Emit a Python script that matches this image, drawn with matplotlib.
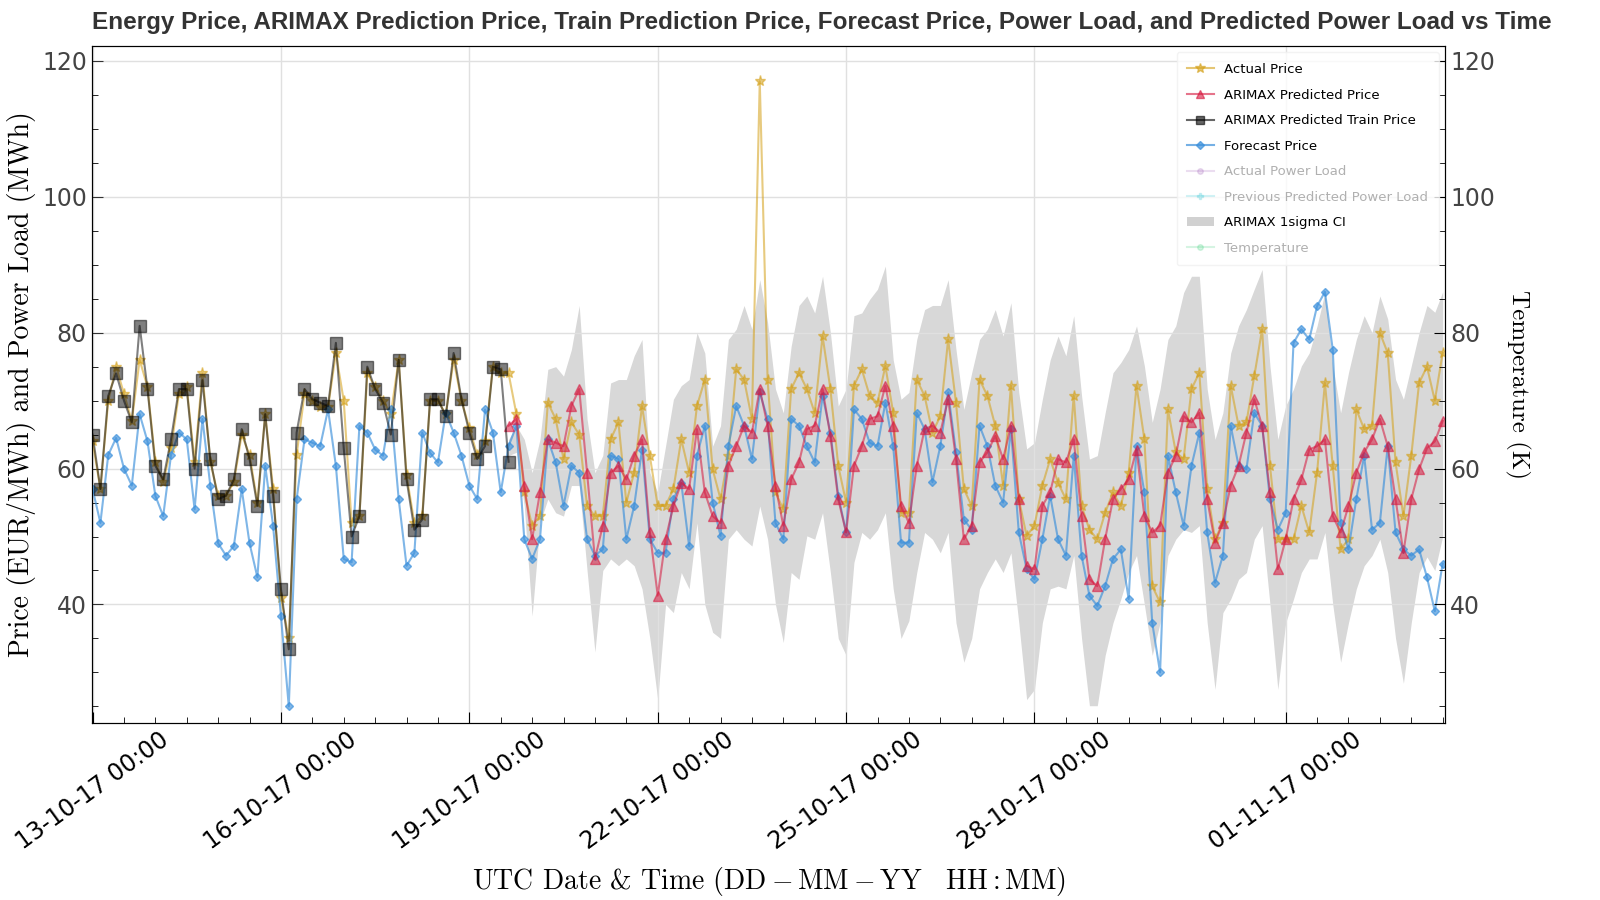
import numpy as np
import pandas as pd
import matplotlib
matplotlib.use("Agg")
import matplotlib.pyplot as plt
import matplotlib.dates as mdates
from matplotlib.lines import Line2D
from matplotlib.patches import Patch

plt.rcParams['mathtext.fontset'] = 'cm'
plt.rcParams['font.family'] = ['DejaVu Sans']
plt.rcParams['axes.formatter.use_mathtext'] = False

times = pd.date_range("2017-10-13 00:00", periods=173, freq="3h")

actual_price = [64, 57, 70, 75, 71, 67, 76, 72, 61, 58, 63, 71, 72, 61, 74, 61, 56, 56, 58, 65, 62, 55, 68, 57, 41, 35, 62, 71, 70,
                69, 69, 77, 70, 52, 53, 74, 72, 70, 68, 76, 59, 52, 53, 70, 70, 68, 76, 70, 66, 62, 64, 75, 74,
                74, 68, 56.5, 51.6, 53, 69.7, 67.3, 61.4, 66.8, 65, 54.5, 53, 53, 64.3, 66.8, 55, 59.4, 69.2, 61.9, 54.5, 54.5, 57, 64.3, 59.4, 69.2, 73.1, 59.9, 55.5, 61.9,
                74.6, 73.1, 67.3, 117, 73.1, 56.5, 54, 71.7, 74.1, 71.7, 68.2, 79.5, 71.7, 60.4, 55, 72.2, 74.6, 70.7, 69.7, 75.1, 68.2, 53.5, 53.5, 73.1, 70.7, 65.3, 67.7, 79, 69.7, 57, 54.5,
                73.1, 70.7, 66.3, 57.5, 72.2, 55.5, 50.1, 51.6, 57.5, 61.4, 57.9, 55.5, 70.7, 54.5, 51, 49.6, 53.5, 56.5, 54.5, 59.4, 72.2, 64.3, 42.7, 40.3, 68.7, 62.4, 61.4, 71.7, 74.1,
                57, 49.6, 52, 72.2, 66.3, 66.8, 73.6, 80.5, 60.4, 49.6, 49.6, 49.6, 54.5, 50.6, 59.4, 72.6, 60.4, 48.1, 49.6, 68.7, 65.8, 66.3, 80, 77, 60.9, 53, 61.9, 72.6, 75, 70, 77]

train_price = [65, 57, 70.7, 74, 70, 66.8, 81, 71.7, 60.4, 58.4, 64.3, 71.7, 71.7, 60, 73, 61.4, 55.5, 56, 58.4, 65.8, 61.4, 54.5, 68, 56, 42.3, 33.4, 65.3, 71.7, 70.2,
               69.7, 69.2, 78.5, 63, 50, 53, 75, 71.7, 69.7, 65, 76, 58.4, 51, 52.5, 70.2, 70.2, 67.7, 77, 70.2, 65.3, 61.4, 63.3, 75, 74.6, 61]

forecast_price = [57, 52, 62, 64.5, 60, 57.5, 68, 64, 56, 53, 62, 65.3, 64.3, 54, 67.3, 57.5, 49, 47.2, 48.6, 57, 49, 44, 60.4, 51.6, 38.3, 25, 55.5, 64.3, 63.8,
                  63.3, 68.7, 60.4, 46.7, 46.2, 66.3, 65.3, 62.8, 61.9, 68.7, 55.5, 45.7, 47.6, 65.3, 62.3, 60.9, 68.2, 65.3, 61.9, 57.5, 55.5, 68.7, 65.3, 56.5,
                  63.3, 66.3, 49.6, 46.7, 49.6, 64.3, 60.9, 54.5, 60.4, 59.4, 49.6, 47.2, 48.1, 61.9, 61.4, 49.6, 54.5, 62.8, 49.6, 47.6, 47.6, 55.5, 57.9, 48.6, 61.9, 66.3, 55, 50.1, 63.3,
                  69.2, 66.3, 61.4, 71.2, 67.3, 52, 49.6, 67.3, 66.3, 63.3, 60.9, 70.7, 65.3, 56, 50.6, 68.7, 67.3, 63.8, 63.3, 69.7, 63.3, 49.1, 49.1, 68.2, 65.8, 58, 63.3, 71.2, 62.4, 52.5, 51,
                  66.3, 63.3, 57.5, 55, 65.8, 50.6, 45.2, 43.7, 49.6, 56, 49.6, 47.2, 61.9, 47.2, 41.3, 39.8, 42.7, 46.7, 48.1, 40.8, 63.3, 56.5, 37.3, 30, 61.9, 56.5, 51.6, 60.4, 65.3,
                  50.6, 43.2, 47.2, 66.3, 60.4, 59.9, 68.2, 66.3, 55.5, 51, 53.5, 78.5, 80.5, 79, 83.9, 86, 77.5, 52, 48.1, 55.5, 61.9, 51, 52, 63.3, 50.6, 48.1, 47.2, 48.1, 44, 39, 46]

pred_price = [66.3, 67.3, 57.5, 49.6, 56.5, 64.3, 63.8, 63.3, 69.2, 71.7, 59.4, 46.7, 51.6, 59.4, 60.4, 58.4, 61.9, 64.3, 50.6, 41.3, 49.6, 54.5, 57.9, 57, 65.8, 56.5, 53, 52, 60.4,
              63.3, 66.3, 65.3, 71.7, 66.3, 57.5, 51.6, 58.4, 60.9, 65.8, 66.3, 71.7, 64.8, 55.5, 50.6, 60.4, 63.3, 67.3, 67.7, 72.2, 66.3, 54.5, 52, 60.4, 65.8, 66.3, 65.3, 70.2, 61.4, 49.6, 51.6,
              60.9, 62.4, 64.8, 61.4, 66.3, 55.5, 45.7, 45.2, 54.5, 56.5, 61.4, 60.9, 64.3, 53, 43.7, 42.7, 49.6, 55.5, 57, 58.4, 62.8, 53, 50.6, 51.6, 59.4, 61.9, 67.7, 66.8, 68.2,
              55.5, 49.1, 52, 57.5, 60.4, 65.3, 70.2, 66.3, 56.5, 45.2, 49.6, 55.5, 58.4, 62.8, 63.3, 64.3, 53, 50.6, 54.5, 59.4, 62.4, 64.3, 67.3, 63.3, 55.5, 47.6, 55.5, 59.9, 63, 64, 67]

ci_upper = [64.3, 66.3, 64.3, 59.4, 64.3, 74.6, 75, 73.6, 77.5, 84, 67.3, 59.4, 61.9, 72.6, 73.1, 73.1, 76.6, 79, 59.4, 56.5, 63.3, 70.2, 72.2, 73.1, 80, 77, 63.3, 66.3, 79,
            80.5, 84, 80.5, 87.8, 81.5, 71.7, 68.2, 78, 84, 85.4, 82.9, 88.3, 80, 69.2, 71.7, 82.5, 82.9, 84.9, 86.4, 89.8, 76, 70.2, 71.2, 79, 83.4, 84, 84, 87.8, 77.5, 68.7, 74.1,
            79, 80.5, 83.4, 79.5, 84.4, 71.2, 62.9, 63.8, 70.2, 76, 79.5, 76.6, 82.5, 70.7, 61.4, 61.9, 68.2, 74.1, 75.6, 77.5, 81, 75.1, 66.8, 71.7, 79, 81, 85.9, 88.3, 88.3,
            71.7, 64.3, 68.2, 77, 81, 83.4, 86.4, 89.3, 75.1, 64.3, 69.2, 71.7, 75.1, 77, 81, 85.9, 75.1, 68.2, 74.1, 79, 82.5, 80, 85.4, 82, 73.1, 70.2, 75.1, 80, 84, 83, 86]

ci_lower = [61.9, 62.4, 54.5, 38.3, 52, 55.5, 53.5, 53, 57.5, 57.5, 45, 33, 45, 46.7, 45.7, 46.7, 45.7, 42.3, 35, 26, 40, 38.8, 44.7, 42.3, 52, 40, 35.9, 35, 49.6,
            51, 49.6, 48.6, 54.5, 49.6, 40, 34.4, 44.7, 43.7, 50.1, 49.6, 53.5, 44.7, 35, 32.5, 46.2, 50.6, 49.6, 51, 53.5, 42.3, 35, 37.6, 44.7, 50.6, 49.6, 47.6, 50.6, 37.3, 31.5, 35,
            42.3, 44.7, 46.7, 44.7, 47.6, 37.3, 26, 27.5, 37.3, 42.3, 42.7, 42.3, 47.2, 35, 25.1, 25.1, 32.5, 37.3, 40.8, 44.7, 47.2, 40, 32.5, 37.3, 47.2, 49.6, 51, 50.6, 51.6,
            37.3, 27.5, 38.8, 40.8, 43.7, 44.7, 49.6, 51.6, 40, 27.5, 37.3, 40.8, 44.7, 46.7, 46.7, 50.6, 40, 31.5, 37.3, 42.3, 45.7, 47.2, 49.6, 44.7, 35, 28.4, 37.3, 44.7, 47, 45, 50]

t_actual = times[:len(actual_price)]
t_fc = times[:len(forecast_price)]
t_train = times[:len(train_price)]
t_pred = times[len(times) - len(pred_price):]
t_ci = times[len(times) - len(ci_upper):]

fig = plt.figure(figsize=(16, 9), dpi=100)
ax = fig.add_axes([0.0573, 0.197, 0.846, 0.752])

gold = '#D4A017'
red = '#D6173E'
blue = '#3A8FDB'

ax.fill_between(t_ci, ci_lower, ci_upper, color='#BEBEBE', alpha=0.6, linewidth=0, zorder=1)
ax.plot(t_actual, actual_price, color=gold, marker='*', ms=8, lw=1.5, alpha=0.55, zorder=3)
ax.plot(t_pred, pred_price, color=red, marker='^', ms=7, lw=1.5, alpha=0.55, zorder=4)
ax.plot(t_train, train_price, color='black', marker='s', ms=8, lw=1.5, alpha=0.5, zorder=4)
ax.plot(t_fc, forecast_price, color=blue, marker='D', ms=4.5, lw=1.5, alpha=0.65, zorder=3)

ax.set_xlim(times[0] - pd.Timedelta(minutes=20), times[-1] + pd.Timedelta(hours=1))
ax.set_ylim(22.6, 122.2)
ax.set_yticks([40, 60, 80, 100, 120])
ax.yaxis.set_minor_locator(matplotlib.ticker.MultipleLocator(5))
ax.xaxis.set_major_locator(mdates.DayLocator(bymonthday=[1, 4, 7, 10, 13, 16, 19, 22, 25, 28]))
ax.xaxis.set_major_formatter(mdates.DateFormatter('%d-%m-%y %H:%M'))
ax.xaxis.set_minor_locator(mdates.HourLocator(byhour=[0, 12]))
ax.grid(True, color='#E0E0E0', lw=1)
ax.tick_params(axis='both', which='both', direction='in')
ax.tick_params(axis='both', which='major', length=8, labelsize=17)
ax.tick_params(axis='both', which='minor', length=4)
ax.tick_params(axis='y', colors='#333333', labelcolor='#444444')
for lab in ax.get_xticklabels():
    lab.set_rotation(36)
    lab.set_ha('center')
for s in ax.spines.values():
    s.set_color('#222222')

serif = 'cmr10'
ax.set_ylabel('Price (EUR/MWh) and Power Load (MWh)', fontsize=20, fontfamily=serif)
ax.set_xlabel(r'UTC Date & Time ($\mathrm{DD - MM - YY}\quad \mathrm{HH : MM}$)', fontsize=20,
              fontfamily=serif, labelpad=8)

ax2 = ax.twinx()
ax2.set_ylim(ax.get_ylim())
ax2.set_yticks([40, 60, 80, 100, 120])
ax2.yaxis.set_minor_locator(matplotlib.ticker.MultipleLocator(5))
ax2.tick_params(axis='y', which='both', direction='in', labelsize=17, labelcolor='#444444')
ax2.tick_params(axis='y', which='major', length=8)
ax2.tick_params(axis='y', which='minor', length=4)
ax2.set_ylabel('Temperature (K)', fontsize=18, fontfamily=serif, rotation=270, labelpad=25)

fig.text(0.0573, 0.962, 'Energy Price, ARIMAX Prediction Price, Train Prediction Price, Forecast Price, Power Load, and Predicted Power Load vs Time',
         fontsize=17.5, fontweight='bold', fontfamily='Liberation Sans', color='#333333', ha='left', va='bottom')

handles = [
    Line2D([], [], color=gold, marker='*', ms=7, alpha=0.6),
    Line2D([], [], color=red, marker='^', ms=6, alpha=0.6),
    Line2D([], [], color='black', marker='s', ms=6, alpha=0.6),
    Line2D([], [], color=blue, marker='D', ms=4, alpha=0.7),
    Line2D([], [], color='#9B59B6', marker='o', ms=4, alpha=0.2),
    Line2D([], [], color='#17BECF', marker='P', ms=5, alpha=0.2),
    Patch(facecolor='#BEBEBE', alpha=0.7, edgecolor='none'),
    Line2D([], [], color='#2ECC71', marker='o', ms=4, alpha=0.2),
]
labels = ['Actual Price', 'ARIMAX Predicted Price', 'ARIMAX Predicted Train Price', 'Forecast Price',
          'Actual Power Load', 'Previous Predicted Power Load', 'ARIMAX 1sigma CI', 'Temperature']
leg = ax2.legend(handles, labels, loc='upper right', fontsize=9.5, frameon=True, labelspacing=0.95,
                 framealpha=0.8, edgecolor='#F0F0F0', borderpad=0.8)
for t, lab in zip(leg.get_texts(), labels):
    if lab in ('Actual Power Load', 'Previous Predicted Power Load', 'Temperature'):
        t.set_color('#B0B0B0')

fig.savefig('out.png', dpi=100)
